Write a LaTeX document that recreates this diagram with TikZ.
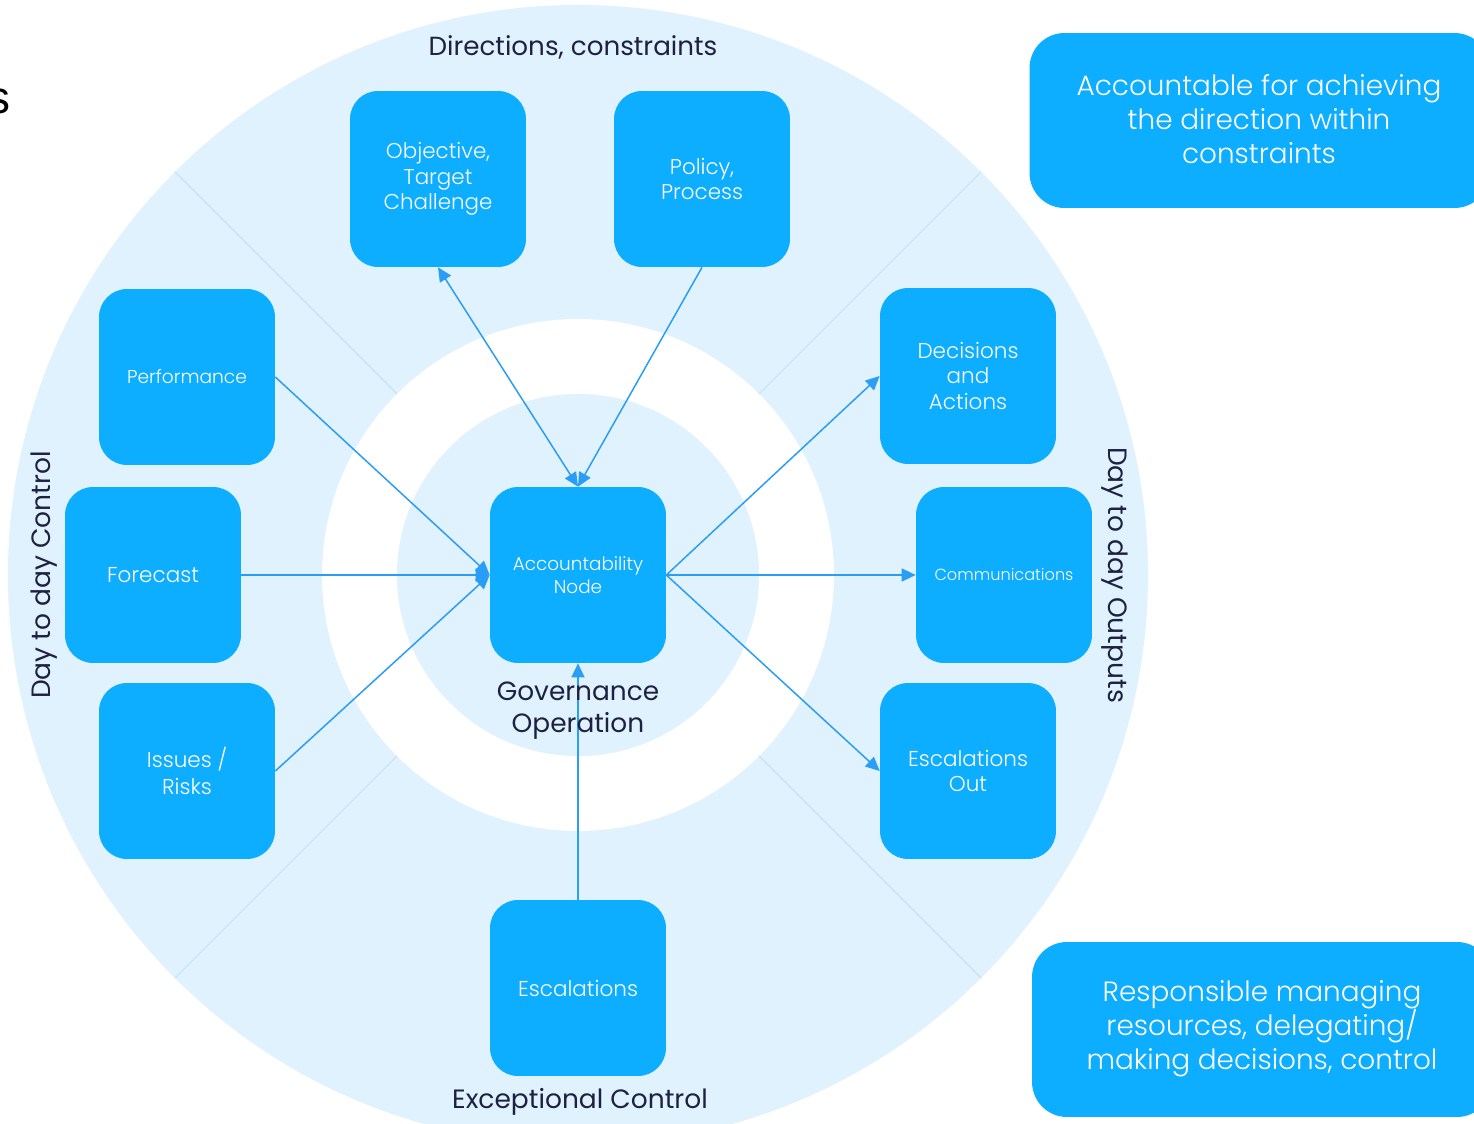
\documentclass[tikz,border=0pt]{standalone}
\usepackage{fontspec}
\setmainfont{Poppins}
\IfFontExistsTF{Poppins Light}{\newfontfamily\boxfont{Poppins Light}}{\newfontfamily\boxfont{Poppins}}
\newfontfamily\arialfont{Liberation Sans}
\usetikzlibrary{arrows.meta,calc}
\definecolor{boxblue}{HTML}{0DADFF}
\definecolor{lightblue}{HTML}{DFF2FD}
\definecolor{divline}{HTML}{C9E5F5}
\definecolor{arrowblue}{HTML}{2A9DF4}
\definecolor{navy}{HTML}{1F2142}
\newcommand\pxfont[2]{\fontsize{\fpeval{#1*0.5669}pt}{\fpeval{#2*0.5669}pt}\selectfont}
\tikzset{
  bx/.style={fill=boxblue, draw=none, rounded corners=0.56cm, minimum width=3.52cm, minimum height=3.52cm, inner sep=0pt, align=center, text=white},
  bigbx/.style={fill=boxblue, draw=none, rounded corners=0.7cm, inner sep=0pt, align=center, text=white},
  conn/.style={draw=arrowblue, line width=0.85pt, -{Triangle[length=0.28cm,width=0.26cm]}},
  dconn/.style={draw=arrowblue, line width=0.85pt, {Triangle[length=0.28cm,width=0.26cm]}-{Triangle[length=0.28cm,width=0.26cm]}},
  lbl/.style={text=navy, align=center, inner sep=0pt},
}
\begin{document}
\begin{tikzpicture}[x=0.02cm,y=-0.02cm]
\useasboundingbox (0,0) rectangle (1474,1124);
\fill[white] (0,0) rectangle (1474,1124);
% rings
\fill[lightblue] (578,575) circle[radius=570*0.02cm];
\fill[white] (578,575) circle[radius=256*0.02cm];
\fill[lightblue] (578,575) circle[radius=181*0.02cm];
\foreach \a in {45,135,225,315}
  \draw[divline, line width=0.8pt] ($(578,575)+(\a:256*0.02cm)$) -- ($(578,575)+(\a:570*0.02cm)$);
% cut-off text at left
\node[anchor=base east, inner sep=0pt, font=\arialfont\pxfont{46}{50}] (frag) at (11,114) {s};
% boxes
\node[bx, font=\boxfont\pxfont{21.5}{25.5}] (obj) at (438,179) {Objective,\\Target\\Challenge};
\node[bx, font=\boxfont\pxfont{21.5}{25}] (pol) at (702,179) {Policy,\\Process};
\node[bx, font=\boxfont\pxfont{18.7}{22}] (perf) at (187,377) {Performance};
\node[bx, font=\boxfont\pxfont{21.6}{25}] (fc) at (153,575) {Forecast};
\node[bx, font=\boxfont\pxfont{21.6}{27}] (iss) at (187,771) {Issues /\\Risks};
\node[bx, font=\boxfont\pxfont{18.5}{23}] (acc) at (578,575) {Accountability\\Node};
\node[bx, font=\boxfont\pxfont{21.6}{25.5}] (dec) at (968,376) {Decisions\\and\\Actions};
\node[bx, font=\boxfont\pxfont{16.2}{20}] (com) at (1004,575) {Communications};
\node[bx, font=\boxfont\pxfont{21.6}{26}] (eso) at (968,771) {Escalations\\Out};
\node[bx, font=\boxfont\pxfont{21.6}{25}] (esc) at (578,988) {Escalations};
% side boxes
\node[bigbx, minimum width=9.2cm, minimum height=3.5cm] (acctbox) at (1259.5,120.5) {};
\node[lbl, text=white, font=\boxfont\pxfont{28}{34.5}] (accttxt) at (1259,119) {Accountable for achieving\\the direction within\\constraints};
\node[bigbx, minimum width=9.2cm, minimum height=3.5cm] (respbox) at (1262,1029.5) {};
\node[lbl, text=white, font=\boxfont\pxfont{28}{34}] (resptxt) at (1262,1029) {Responsible managing\\resources, delegating/\\making decisions, control};
% connectors
\draw[dconn] (obj.south) -- (acc.north);
\draw[conn] (pol.south) -- (acc.north);
\draw[conn] (perf.east) -- (acc.west);
\draw[conn] (fc.east) -- (acc.west);
\draw[conn] (iss.east) -- (acc.west);
\draw[conn] (acc.east) -- (dec.west);
\draw[conn] (acc.east) -- (com.west);
\draw[conn] (acc.east) -- (eso.west);
\draw[conn] (esc.north) -- (acc.south);
% labels
\node[lbl, font=\pxfont{26.3}{30}] (dirlbl) at (573,47) {Directions, constraints};
\node[lbl, font=\pxfont{26.6}{30}, rotate=90] (ctrllbl) at (44,575) {Day to day Control};
\node[lbl, font=\pxfont{26.6}{30}, rotate=-90] (outlbl) at (1115,575) {Day to day Outputs};
\node[lbl, font=\pxfont{26.6}{30}] (exclbl) at (580,1102) {Exceptional Control};
\node[lbl, font=\pxfont{26.5}{32}] (govlbl) at (578,711) {Governance\\Operation};
\end{tikzpicture}
\end{document}
